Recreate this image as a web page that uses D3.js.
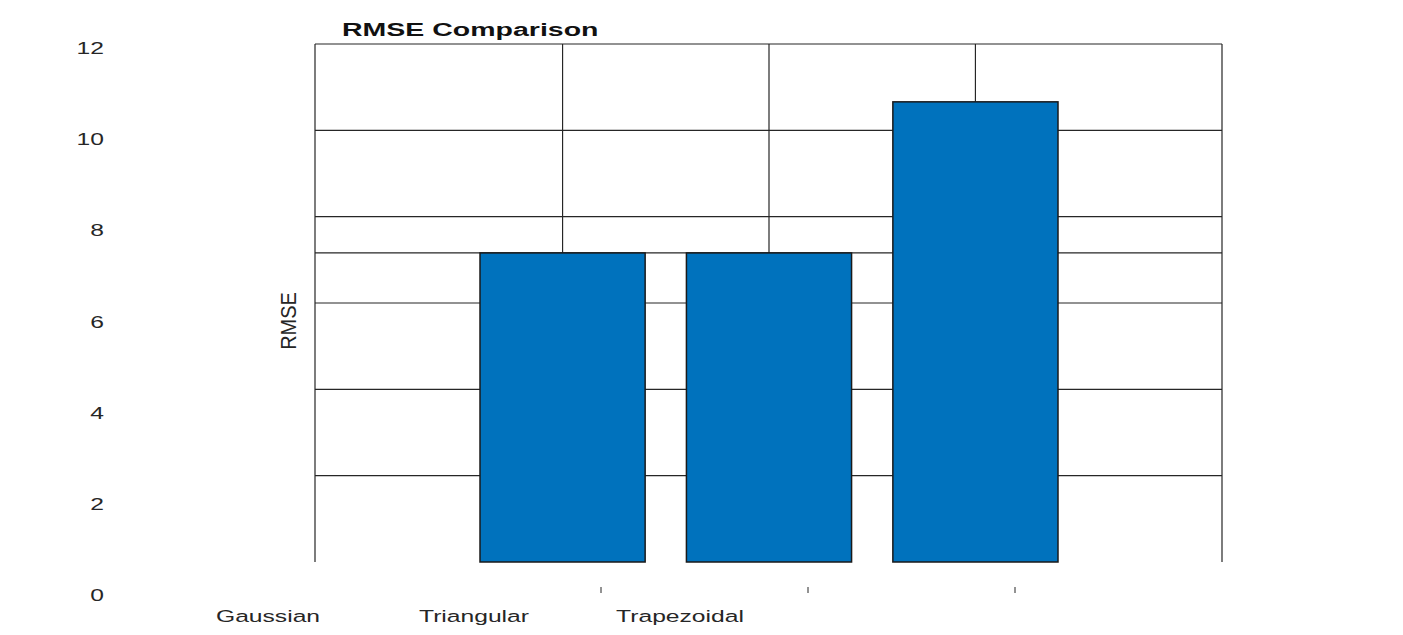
<!DOCTYPE html>
<html><head><meta charset="utf-8">
<script src="https://cdn.jsdelivr.net/npm/d3@7"></script>
<style>body{margin:0;background:#fff}</style></head>
<body><svg id="c" width="1403" height="635"></svg>
<script>
const categories = ["Gaussian","Triangular","Trapezoidal"];
const values = [7.16, 7.16, 10.66];
const yTicks = [0,2,4,6,8,10,12];
const gridVals = [2,4,6,8,10,12];

const svg = d3.select("#c");
const xb = d3.scaleBand().domain(categories).range([480,1058]).paddingInner(0.2);
const y = d3.scaleLinear().domain([0,12]).range([562,44]);
const yLab = d3.scaleLinear().domain([0,12]).range([595,48]);
const xLab = d3.scalePoint().domain(categories).range([268,680]);
const xTick = d3.scalePoint().domain(categories).range([601,1015]);
const F = "Liberation Sans, Arial";

const g = svg.append("g").attr("stroke","#262626").attr("stroke-width",1.2);
gridVals.forEach(v=>g.append("line").attr("x1",315).attr("x2",1222).attr("y1",y(v)).attr("y2",y(v)));
g.append("line").attr("x1",315).attr("x2",1222).attr("y1",y(values[0])).attr("y2",y(values[0]));
g.append("line").attr("x1",315).attr("x2",315).attr("y1",44).attr("y2",562);
g.append("line").attr("x1",1222).attr("x2",1222).attr("y1",44).attr("y2",562);
categories.forEach((c,i)=>{
  const cx = xb(c)+xb.bandwidth()/2;
  g.append("line").attr("x1",cx).attr("x2",cx).attr("y1",44).attr("y2",y(values[i]));
});
svg.selectAll("rect.bar").data(values).join("rect").attr("class","bar")
  .attr("x",(d,i)=>xb(categories[i])).attr("width",xb.bandwidth())
  .attr("y",d=>y(d)).attr("height",d=>562-y(d))
  .attr("fill","#0072bd").attr("stroke","#1a1a1a").attr("stroke-width",1.5);

categories.forEach(c=>svg.append("line").attr("x1",xTick(c)).attr("x2",xTick(c)).attr("y1",587).attr("y2",593).attr("stroke","#262626"));

svg.selectAll("text.yl").data(yTicks).join("text").attr("class","yl")
  .attr("transform",d=>`translate(104,${yLab(d)+6}) scale(1.45,1)`).attr("text-anchor","end")
  .attr("font-family",F).attr("font-size",17).attr("fill","#262626").text(d=>d);
svg.selectAll("text.xl").data(categories).join("text").attr("class","xl")
  .attr("transform",d=>`translate(${xLab(d)},622) scale(1.45,1)`).attr("text-anchor","middle")
  .attr("font-family",F).attr("font-size",17).attr("fill","#262626").text(d=>d);
svg.append("text").attr("transform","translate(342,36) scale(1.5,1)").attr("font-family",F)
  .attr("font-weight","bold").attr("font-size",19).attr("fill","#111").text("RMSE Comparison");
svg.append("text").attr("transform","translate(296,321) rotate(-90) scale(0.95,1.05)")
  .attr("text-anchor","middle").attr("font-family",F).attr("font-size",21)
  .attr("fill","#262626").text("RMSE");
</script></body></html>
